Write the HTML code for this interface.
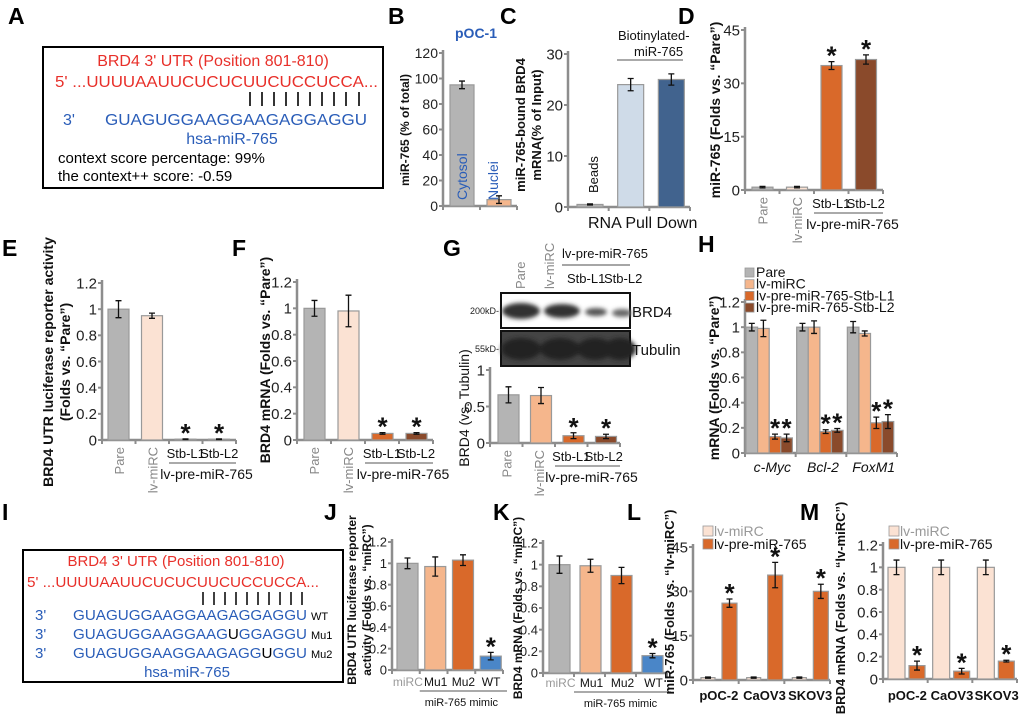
<!DOCTYPE html>
<html><head><meta charset="utf-8">
<style>
html,body{margin:0;padding:0;background:#fff;}
svg{display:block;font-family:"Liberation Sans",Arial,sans-serif;}
.pl{font-size:23px;font-weight:bold;fill:#000;}
</style></head>
<body>
<svg id="fig" width="1020" height="716" viewBox="0 0 1020 716">
<text class="pl" x="8" y="24">A</text>
<text class="pl" x="388" y="24">B</text>
<text class="pl" x="500" y="24">C</text>
<text class="pl" x="678" y="24">D</text>
<text class="pl" x="2" y="256">E</text>
<text class="pl" x="232" y="256">F</text>
<text class="pl" x="443" y="256">G</text>
<text class="pl" x="698" y="252">H</text>
<text class="pl" x="2" y="520">I</text>
<text class="pl" x="324" y="520">J</text>
<text class="pl" x="493" y="520">K</text>
<text class="pl" x="627" y="520">L</text>
<text class="pl" x="800" y="520">M</text>

<g>
<rect x="43" y="47" width="340" height="141" fill="none" stroke="#000" stroke-width="2"/>
<text x="213" y="66" text-anchor="middle" font-size="16" fill="#e8302a">BRD4 3' UTR (Position 801-810)</text>
<text x="55" y="87" font-size="16" fill="#e8302a" textLength="323" lengthAdjust="spacingAndGlyphs">5' ...UUUUAAUUCUCUCUUCUCCUCCA...</text>
<g stroke="#000" stroke-width="1.6">
<line x1="250" y1="92" x2="250" y2="106"/><line x1="262" y1="92" x2="262" y2="106"/><line x1="274" y1="92" x2="274" y2="106"/><line x1="286" y1="92" x2="286" y2="106"/><line x1="298" y1="92" x2="298" y2="106"/><line x1="310" y1="92" x2="310" y2="106"/><line x1="322" y1="92" x2="322" y2="106"/><line x1="334" y1="92" x2="334" y2="106"/><line x1="346" y1="92" x2="346" y2="106"/><line x1="359" y1="92" x2="359" y2="106"/>
</g>
<text x="63" y="125" font-size="16" fill="#2a5db8">3'</text>
<text x="105" y="125" font-size="16" fill="#2a5db8" textLength="262" lengthAdjust="spacingAndGlyphs">GUAGUGGAAGGAAGAGGAGGU</text>
<text x="232" y="144" text-anchor="middle" font-size="16" fill="#2a5db8">hsa-miR-765</text>
<text x="58" y="163" font-size="15" fill="#000">context score percentage: 99%</text>
<text x="58" y="181" font-size="15" fill="#000">the context++ score: -0.59</text>
</g>

<g>
<rect x="23" y="550" width="320" height="132" fill="none" stroke="#000" stroke-width="2"/>
<text x="176" y="566" text-anchor="middle" font-size="15" fill="#e8302a">BRD4 3' UTR (Position 801-810)</text>
<text x="27" y="587" font-size="15" fill="#e8302a" textLength="292" lengthAdjust="spacingAndGlyphs">5' ...UUUUAAUUCUCUCUUCUCCUCCA...</text>
<g stroke="#000" stroke-width="1.5">
<line x1="203" y1="592" x2="203" y2="605"/><line x1="214" y1="592" x2="214" y2="605"/><line x1="225" y1="592" x2="225" y2="605"/><line x1="236" y1="592" x2="236" y2="605"/><line x1="247" y1="592" x2="247" y2="605"/><line x1="258" y1="592" x2="258" y2="605"/><line x1="269" y1="592" x2="269" y2="605"/><line x1="280" y1="592" x2="280" y2="605"/><line x1="291" y1="592" x2="291" y2="605"/><line x1="302" y1="592" x2="302" y2="605"/>
</g>
<g font-size="15" fill="#2a5db8">
<text x="35" y="620">3'</text>
<text x="73" y="620" textLength="234" lengthAdjust="spacingAndGlyphs">GUAGUGGAAGGAAGAGGAGGU</text>
<text x="35" y="639">3'</text>
<text x="73" y="639" textLength="234" lengthAdjust="spacingAndGlyphs">GUAGUGGAAGGAAG<tspan fill="#000">U</tspan>GGAGGU</text>
<text x="35" y="658">3'</text>
<text x="73" y="658" textLength="234" lengthAdjust="spacingAndGlyphs">GUAGUGGAAGGAAGAGG<tspan fill="#000">U</tspan>GGU</text>
<text x="187" y="677" text-anchor="middle">hsa-miR-765</text>
</g>
<g font-size="11" fill="#000">
<text x="311" y="620">WT</text>
<text x="311" y="639">Mu1</text>
<text x="311" y="658">Mu2</text>
</g>
</g>

<g>
<defs>
<filter id="blur" x="-20%" y="-50%" width="140%" height="200%"><feGaussianBlur stdDeviation="2.2"/></filter>
</defs>
<rect x="501" y="293" width="129" height="35" fill="#fff" stroke="#111" stroke-width="2"/>
<g filter="url(#blur)" fill="#333">
<ellipse cx="521" cy="311" rx="19" ry="8"/>
<ellipse cx="562" cy="311" rx="18" ry="7"/>
<ellipse cx="596" cy="312" rx="11" ry="4" fill="#555"/>
<ellipse cx="622" cy="313" rx="10" ry="4" fill="#666"/>
</g>
<rect x="501" y="331" width="129" height="35" fill="#444" stroke="#111" stroke-width="2"/>
<g filter="url(#blur)" fill="#222">
<ellipse cx="521" cy="349" rx="20" ry="11"/><ellipse cx="560" cy="349" rx="20" ry="11"/><ellipse cx="595" cy="349" rx="18" ry="11"/><ellipse cx="620" cy="349" rx="16" ry="11"/>
</g>
<text x="499" y="314" text-anchor="end" font-size="9" fill="#222">200kD-</text>
<text x="499" y="352" text-anchor="end" font-size="9" fill="#222">55kD-</text>
<text x="632" y="317" font-size="15" fill="#111">BRD4</text>
<text x="632" y="355" font-size="15" fill="#111">Tubulin</text>
<text transform="translate(525,289) rotate(-90)" font-size="13" fill="#888">Pare</text>
<text transform="translate(554,289) rotate(-90)" font-size="13" fill="#888">lv-miRC</text>
<text x="562" y="258" font-size="13" fill="#111">lv-pre-miR-765</text>
<line x1="562" y1="265" x2="630" y2="265" stroke="#888" stroke-width="1.5"/>
<text x="567" y="283" font-size="13" fill="#111">Stb-L1</text>
<text x="604" y="283" font-size="13" fill="#111">Stb-L2</text>
</g>
</svg>

<script>
// ---------- DATA ----------
const bCats=['Cytosol','Nuclei']; const bVals=[95,5]; const bErr=[3,3]; const bTicks=[0,20,40,60,80,100,120];
const cCats=['Beads','Pull-light','Pull-dark']; const cVals=[0.5,24,25]; const cErr=[0.1,1.2,1.1]; const cTicks=[0,10,20,30];
const dCats=['Pare','lv-miRC','Stb-L1','Stb-L2']; const dVals=[0.8,0.8,35,36.7]; const dErr=[0.2,0.2,1.1,1.3]; const dStars=[0,0,1,1]; const dTicks=[0,15,30,45];
const eCats=['Pare','lv-miRC','Stb-L1','Stb-L2']; const eVals=[1,0.95,0.006,0.006]; const eErr=[0.065,0.02,0.002,0.002]; const eStars=[0,0,1,1]; const eTicks=[0,0.2,0.4,0.6,0.8,1,1.2];
const fCats=['Pare','lv-miRC','Stb-L1','Stb-L2']; const fVals=[1,0.98,0.05,0.05]; const fErr=[0.06,0.12,0.006,0.006]; const fStars=[0,0,1,1]; const fTicks=[0,0.2,0.4,0.6,0.8,1,1.2];
const gCats=['Pare','lv-miRC','Stb-L1','Stb-L2']; const gVals=[0.66,0.65,0.1,0.09]; const gErr=[0.11,0.11,0.04,0.03]; const gStars=[0,0,1,1]; const gTicks=[0,0.5,1];
const hCats=['c-Myc','Bcl-2','FoxM1']; const hSeries=['Pare','lv-miRC','lv-pre-miR-765-Stb-L1','lv-pre-miR-765-Stb-L2'];
const hPare=[1,1,1]; const hMiRC=[0.99,1,0.95]; const hL1=[0.13,0.17,0.24]; const hL2=[0.12,0.18,0.25];
const hPareErr=[0.03,0.03,0.045]; const hMiRCErr=[0.065,0.05,0.02]; const hL1Err=[0.02,0.015,0.045]; const hL2Err=[0.03,0.015,0.055];
const hTicks=[0,0.2,0.4,0.6,0.8,1,1.2];
const jCats=['miRC','Mu1','Mu2','WT']; const jVals=[1,0.97,1.03,0.13]; const jErr=[0.05,0.09,0.05,0.035]; const jStars=[0,0,0,1]; const jTicks=[0,0.2,0.4,0.6,0.8,1,1.2];
const kCats=['miRC','Mu1','Mu2','WT']; const kVals=[1,0.99,0.9,0.16]; const kErr=[0.08,0.06,0.075,0.02]; const kStars=[0,0,0,1]; const kTicks=[0,0.2,0.4,0.6,0.8,1,1.2];
const lCats=['pOC-2','CaOV3','SKOV3']; const lMiRC=[0.8,0.8,0.8]; const lPre=[26,35.5,30]; const lMiRCErr=[0.2,0.2,0.2]; const lPreErr=[1.4,4.3,2.4]; const lTicks=[0,15,30,45];
const mCats=['pOC-2','CaOV3','SKOV3']; const mMiRC=[1,1,1]; const mPre=[0.12,0.07,0.16]; const mMiRCErr=[0.065,0.065,0.065]; const mPreErr=[0.04,0.025,0.008]; const mTicks=[0,0.2,0.4,0.6,0.8,1,1.2];

// ---------- HELPERS ----------
const NS='http://www.w3.org/2000/svg';
const fig=document.getElementById('fig');
function mk(tag,attrs,parent){const e=document.createElementNS(NS,tag);for(const k in attrs)e.setAttribute(k,attrs[k]);(parent||fig).appendChild(e);return e;}
const GREY='#b4b4b4',PEACH='#f5b68c',LPEACH='#fbe2d3',ORANGE='#d9692a',BROWN='#8a4a2b',AX='#8d8d8d';

function makeChart(o){
  const g=mk('g',{});
  
  
  const sy=v=>o.y0-(v/o.max)*(o.y0-o.yTop);
  const step=(o.x1-o.ax)/o.n;
  const ya=mk('line',{x1:o.ax,y1:o.yTop-3,x2:o.ax,y2:o.y0,stroke:AX,'stroke-width':2.5},g);
  
  
  const xa=mk('line',{x1:o.ax,y1:o.y0,x2:o.x1,y2:o.y0,stroke:AX,'stroke-width':2.5},g);
  
  
  o.ticks.forEach(t=>{
    mk('line',{x1:o.ax-4,y1:sy(t),x2:o.ax,y2:sy(t),stroke:AX,'stroke-width':2},g);
    const tl=mk('text',{x:o.ax-5,y:sy(t)+o.fs*0.36,'text-anchor':'end','font-size':o.fs,fill:'#222'},g);
    tl.textContent=String(t);
    
    
  });
  for(let i=0;i<=o.n;i++){mk('line',{x1:o.ax+i*step,y1:o.y0,x2:o.ax+i*step,y2:o.y0+4,stroke:AX,'stroke-width':2},g);}
  return {g,sy,step,o};
}
function bars(c,vals,errs,colors,off,w,name,stars){
  vals.forEach((v,i)=>{
    const x=c.o.ax+i*c.step+off;
    const col=Array.isArray(colors)?colors[i]:colors;
    const r=mk('rect',{x:x,y:c.sy(v),width:w,height:c.o.y0-c.sy(v),fill:col,stroke:'#999','stroke-width':1.2},c.g);
    
    
    const cx=x+w/2,t=c.sy(v+errs[i]),b=c.sy(Math.max(0,v-errs[i]));
    mk('path',{d:`M${cx-3},${t}H${cx+3}M${cx},${t}V${b}M${cx-3},${b}H${cx+3}`,stroke:'#111','stroke-width':1.3,fill:'none'},c.g);
    if(stars&&stars[i]){
      const s=mk('text',{x:cx,y:t+3,'text-anchor':'middle','font-size':26,'font-weight':'bold',fill:'#111'},c.g);
      s.textContent='*';
      
      
    }
  });
}
function txt(s,attrs,name){const e=mk('text',attrs);e.textContent=s;return e;}
function rot(s,x,y,attrs,name){const a=Object.assign({transform:`translate(${x},${y}) rotate(-90)`},attrs);return txt(s,a,name);}
function ytitle(lines,x,cy,fs,name){lines.forEach((l,i)=>rot(l,x+i*(fs+3),cy,{'text-anchor':'middle','font-size':fs,'font-weight':'bold',fill:'#111'},name+'-'+i));}
function stbLabels(c,y,name){
  const base=c.o.ax+2*c.step;
  txt('Stb-L1',{x:base+c.step/2,y:y,'text-anchor':'middle','font-size':13,fill:'#111'},name+'-stb-l1');
  txt('Stb-L2',{x:base+1.5*c.step,y:y,'text-anchor':'middle','font-size':13,fill:'#111'},name+'-stb-l2');
  mk('line',{x1:base,y1:y+5,x2:c.o.x1,y2:y+5,stroke:AX,'stroke-width':1.5});
  txt('lv-pre-miR-765',{x:(base+c.o.x1)/2+4,y:y+21,'text-anchor':'middle','font-size':14,fill:'#111'},name+'-group-label');
  rot('Pare',c.o.ax+c.step/2+5,c.o.y0+7,{'text-anchor':'end','font-size':13,fill:'#888'},name+'-pare-label');
  rot('lv-miRC',c.o.ax+1.5*c.step+5,c.o.y0+7,{'text-anchor':'end','font-size':13,fill:'#888'},name+'-lv-mirc-label');
}

// ---------- B ----------
const cb=makeChart({name:'panel-b-chart',ax:443,y0:206,yTop:53,max:120,ticks:bTicks,x1:517,n:2,fs:14});
bars(cb,bVals,bErr,[GREY,PEACH],7,24,'panel-b');
txt('pOC-1',{x:455,y:38,'font-size':14,'font-weight':'bold',fill:'#2a5db8'},'panel-b-title');
rot(bCats[0],467,200,{'font-size':14,fill:'#2a5db8'},'panel-b-cytosol-label');
rot(bCats[1],498,200,{'font-size':14,fill:'#2a5db8'},'panel-b-nuclei-label');
ytitle(['miR-765 (% of total)'],409,130,12,'panel-b-y-title');

// ---------- C ----------
const cc=makeChart({name:'panel-c-chart',ax:568,y0:207,yTop:54,max:30,ticks:cTicks,x1:690,n:3,fs:15});
bars(cc,cVals,cErr,[GREY,'#cfdbe8','#41638e'],9,26,'panel-c');
rot('Beads',598,193,{'font-size':13,fill:'#111'},'panel-c-beads-label');
txt('Biotinylated-',{x:618,y:40,'font-size':13,fill:'#111'},'panel-c-biotin-label');
txt('miR-765',{x:634,y:56,'font-size':13,fill:'#111'},'panel-c-biotin-label-2');
mk('line',{x1:617,y1:60,x2:683,y2:60,stroke:AX,'stroke-width':1.5});
txt('RNA Pull Down',{x:588,y:228,'font-size':16,fill:'#111'},'panel-c-x-title');
ytitle(['miR-765-bound BRD4','mRNA(% of Input)'],525,125,13,'panel-c-y-title');

// ---------- D ----------
const cd=makeChart({name:'panel-d-chart',ax:745,y0:190,yTop:30,max:45,ticks:dTicks,x1:883,n:4,fs:15});
bars(cd,dVals,dErr,[GREY,LPEACH,ORANGE,BROWN],7,21,'panel-d',dStars);
stbLabels(cd,208,'panel-d');
ytitle(['miR-765 (Folds vs. \u201cPare\u201d)'],720,110,14,'panel-d-y-title');

// ---------- E ----------
const ce=makeChart({name:'panel-e-chart',ax:102,y0:440,yTop:283,max:1.2,ticks:eTicks,x1:236,n:4,fs:15});
bars(ce,eVals,eErr,[GREY,LPEACH,ORANGE,BROWN],6,21,'panel-e',eStars);
stbLabels(ce,458,'panel-e');
ytitle(['BRD4 UTR luciferase reporter activity','(Folds vs. \u201cPare\u201d)'],53,362,14,'panel-e-y-title');

// ---------- F ----------
const cf=makeChart({name:'panel-f-chart',ax:297,y0:440,yTop:282,max:1.2,ticks:fTicks,x1:433,n:4,fs:15});
bars(cf,fVals,fErr,[GREY,LPEACH,ORANGE,BROWN],7,21,'panel-f',fStars);
stbLabels(cf,458,'panel-f');
ytitle(['BRD4 mRNA (Folds vs. \u201cPare\u201d)'],270,360,14,'panel-f-y-title');

// ---------- G ----------
const cg=makeChart({name:'panel-g-chart',ax:490,y0:443,yTop:370,max:1,ticks:gTicks,x1:620,n:4,fs:15});
bars(cg,gVals,gErr,[GREY,PEACH,ORANGE,BROWN],8,21,'panel-g',gStars);
stbLabels(cg,461,'panel-g');
rot('BRD4 (vs. Tubulin)',469,408,{'text-anchor':'middle','font-size':14,fill:'#111'},'panel-g-y-title');

// ---------- H ----------
const ch=makeChart({name:'panel-h-chart',ax:745,y0:453,yTop:302,max:1.2,ticks:hTicks,x1:897,n:3,fs:15});
const hCols=[GREY,PEACH,ORANGE,BROWN];
const hVals=[hPare,hMiRC,hL1,hL2]; const hErrs=[hPareErr,hMiRCErr,hL1Err,hL2Err];
hVals.forEach((vals,s)=>bars(ch,vals,hErrs[s],hCols[s],1+s*11.6,11.6,'panel-h-'+hSeries[s],s>=2?[1,1,1]:null));
hCats.forEach((c,i)=>txt(c,{x:745+i*ch.step+ch.step/2+2,y:472,'text-anchor':'middle','font-size':14,'font-style':'italic',fill:'#111'},'panel-h-category-'+c));
hSeries.forEach((s,i)=>{
  const r=mk('rect',{x:745,y:268+i*11.7,width:9,height:9,fill:hCols[i],stroke:'#999','stroke-width':0.8});
  
  
  txt(s,{x:756,y:277+i*11.7,'font-size':14,fill:'#111'},'panel-h-legend-entry');
});
ytitle(['mRNA (Folds vs. \u201cPare\u201d)'],719,378,14,'panel-h-y-title');

// ---------- J ----------
function mimicLabels(c,y,name){
  c.o.cats.forEach((k,i)=>txt(k,{x:c.o.ax+i*c.step+c.step/2+2,y:y,'text-anchor':'middle','font-size':12,fill:i==0?'#999':'#111'},name+'-label-'+k));
  const base=c.o.ax+c.step;
  mk('line',{x1:base,y1:y+5,x2:c.o.x1+4,y2:y+5,stroke:AX,'stroke-width':1.5});
  txt('miR-765 mimic',{x:(base+c.o.x1)/2,y:y+20,'text-anchor':'middle','font-size':11,fill:'#111'},name+'-group-label');
}
const cj=makeChart({name:'panel-j-chart',ax:392,y0:670,yTop:542,max:1.2,ticks:jTicks,x1:503,n:4,fs:13,cats:jCats});
bars(cj,jVals,jErr,[GREY,PEACH,ORANGE,'#4a86c8'],5,21,'panel-j',jStars);
mimicLabels(cj,686,'panel-j');
ytitle(['BRD4 UTR luciferase reporter','activity (Folds vs. \u201cmiRC\u201d)'],356,600,12,'panel-j-y-title');

// ---------- K ----------
const ck=makeChart({name:'panel-k-chart',ax:543,y0:673,yTop:543,max:1.2,ticks:kTicks,x1:667,n:4,fs:13,cats:kCats});
bars(ck,kVals,kErr,[GREY,PEACH,ORANGE,'#4a86c8'],6,21,'panel-k',kStars);
mimicLabels(ck,687,'panel-k');
ytitle(['BRD4 mRNA (Folds vs. \u201cmiRC\u201d)'],522,608,12,'panel-k-y-title');

// ---------- L ----------
const cl=makeChart({name:'panel-l-chart',ax:693,y0:680,yTop:547,max:45,ticks:lTicks,x1:830,n:3,fs:15});
bars(cl,lMiRC,lMiRCErr,LPEACH,8,14,'panel-l-lv-mirc');
bars(cl,lPre,lPreErr,ORANGE,29,15,'panel-l-lv-pre',[1,1,1]);
lCats.forEach((c,i)=>txt(c,{x:693+i*cl.step+cl.step/2+3,y:700,'text-anchor':'middle','font-size':13,'font-weight':'bold',fill:'#111'},'panel-l-category-'+c));
ytitle(['miR-765 (Folds vs. \u201clv-miRC\u201d)'],674,602,13,'panel-l-y-title');

// ---------- M ----------
const cm=makeChart({name:'panel-m-chart',ax:883,y0:679,yTop:545,max:1.2,ticks:mTicks,x1:1017,n:3,fs:15});
bars(cm,mMiRC,mMiRCErr,LPEACH,5,17,'panel-m-lv-mirc');
bars(cm,mPre,mPreErr,ORANGE,26,16,'panel-m-lv-pre',[1,1,1]);
mCats.forEach((c,i)=>txt(c,{x:883+i*cm.step+cm.step/2+2,y:700,'text-anchor':'middle','font-size':13,'font-weight':'bold',fill:'#111'},'panel-m-category-'+c));
ytitle(['BRD4 mRNA (Folds vs. \u201clv-miRC\u201d)'],845,608,13,'panel-m-y-title');

// legends L & M
[[703,'panel-l'],[889,'panel-m']].forEach(([lx,nm])=>{
  const a=mk('rect',{x:lx,y:526,width:10,height:10,fill:LPEACH,stroke:'#999','stroke-width':0.8});
  
  
  txt('lv-miRC',{x:lx+11,y:536,'font-size':14,fill:'#999'},nm+'-legend-lv-mirc');
  const b=mk('rect',{x:lx,y:539,width:10,height:10,fill:ORANGE,stroke:'#999','stroke-width':0.8});
  
  
  txt('lv-pre-miR-765',{x:lx+11,y:549,'font-size':14,fill:'#111'},nm+'-legend-lv-pre');
});
</script>
</body></html>
